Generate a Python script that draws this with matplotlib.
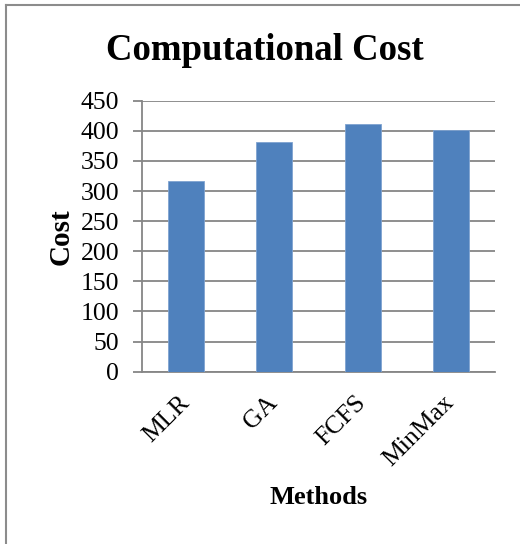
import matplotlib
matplotlib.use("Agg")
import matplotlib.pyplot as plt
from matplotlib.lines import Line2D

methods = ["MLR", "GA", "FCFS", "MinMax"]
cost = [316, 381, 411, 401]
yticks = [0, 50, 100, 150, 200, 250, 300, 350, 400, 450]

plt.rcParams['font.family'] = ['Liberation Serif', 'DejaVu Serif']

fig = plt.figure(figsize=(5.2, 5.44), dpi=100)
ax = fig.add_axes([142/520, 1-371.7/544, (495-142)/520, (371.7-100.7)/544])

grid_c = '#868686'
x = list(range(len(methods)))
ax.bar(x, cost, width=0.41, color='#4F81BD', edgecolor='#7FA3D0', linewidth=0.6, zorder=3)
ax.set_xlim(-0.5, len(methods) - 0.5)
ax.set_ylim(0, 450)
ax.set_yticks(yticks)
ax.set_yticklabels([str(v) for v in yticks], fontsize=18.5)
ax.yaxis.grid(True, color=grid_c, linewidth=1.3, zorder=0)
ax.set_axisbelow(True)
for s in ['top', 'right']:
    ax.spines[s].set_visible(False)
for s in ['left', 'bottom']:
    ax.spines[s].set_color(grid_c)
    ax.spines[s].set_linewidth(1.3)
ax.tick_params(axis='y', length=6.5, width=1.3, color=grid_c, pad=10)
ax.set_xticks(x)
ax.set_xticklabels(methods, fontsize=18.5, rotation=45, ha='right', va='center', rotation_mode='anchor')
ax.tick_params(axis='x', length=0, pad=20)

ax.set_ylabel("Cost", fontsize=21, fontweight='bold', labelpad=4)
ax.set_xlabel("Methods", fontsize=19, fontweight='bold', labelpad=11)
fig.text(0.51, 1-50/544, "Computational Cost", fontsize=26.5, fontweight='bold', ha='center', va='center')

# outer frame (top and left edges visible)
fig.add_artist(Line2D([6/520, 6/520], [0, 1-4.5/544], transform=fig.transFigure, color='#8c8c8c', linewidth=1.5))
fig.add_artist(Line2D([6/520, 1], [1-4.5/544, 1-4.5/544], transform=fig.transFigure, color='#8c8c8c', linewidth=1.5))

fig.savefig("out.png", dpi=100)
